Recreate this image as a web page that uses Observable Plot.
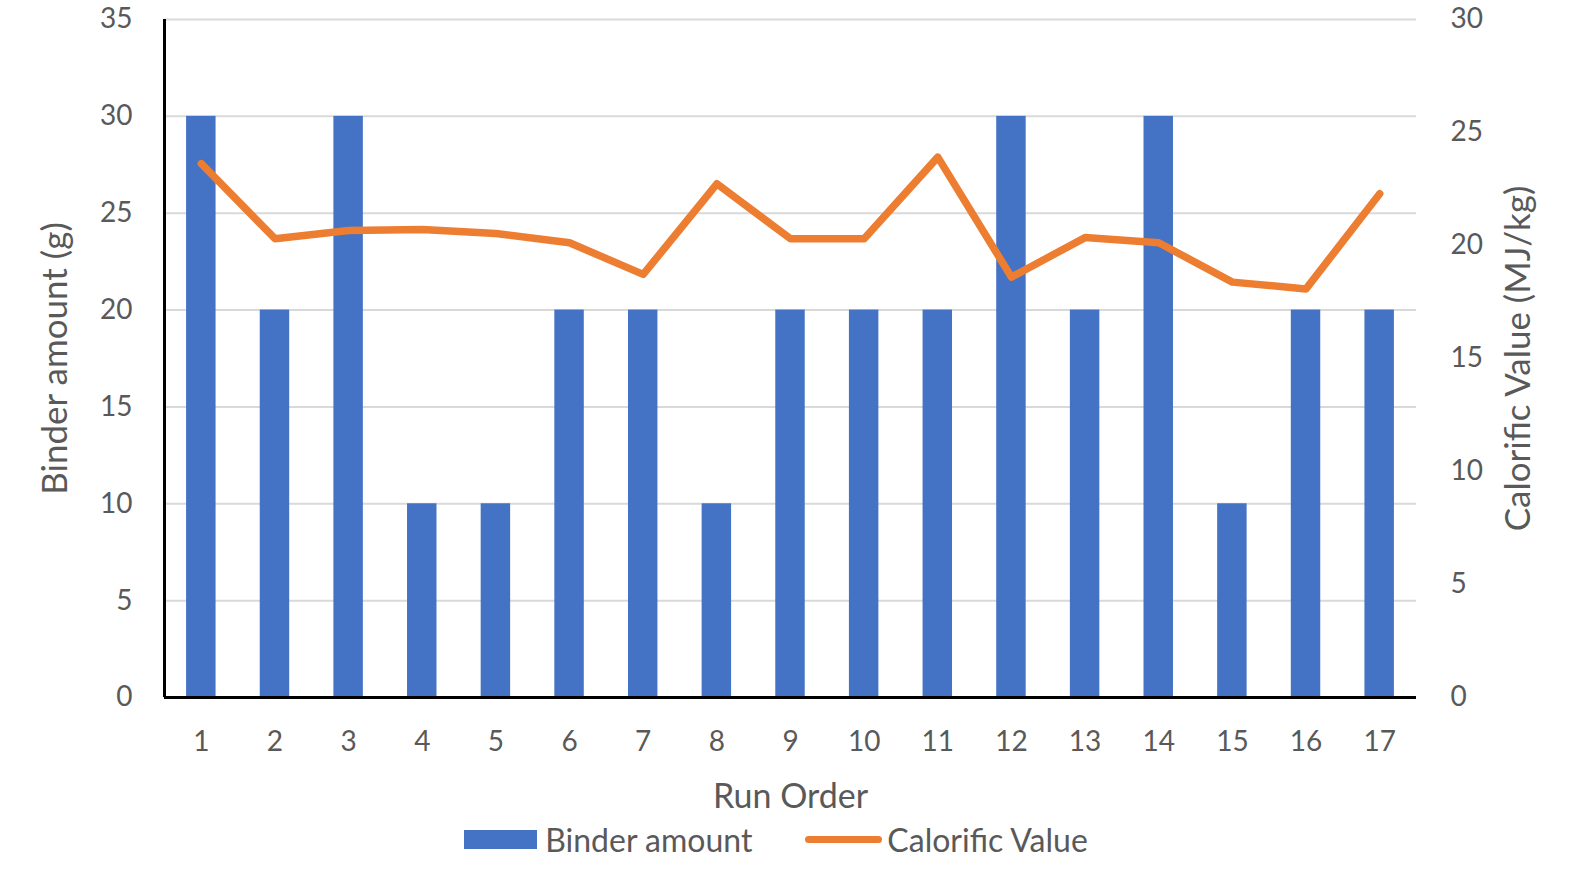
<!DOCTYPE html>
<html>
<head>
<meta charset="utf-8">
<script src="https://cdn.jsdelivr.net/npm/d3@7"></script>
<script src="https://cdn.jsdelivr.net/npm/@observablehq/plot@0.6"></script>
<style>
  html, body { margin: 0; padding: 0; background: #fff; }
  #chart { width: 1570px; }
  .legend { display: flex; justify-content: center; align-items: center; height: 48px; padding-right: 18px;
    font-family: Lato, sans-serif; font-size: 32px; color: #595959; }
  .legend .item { display: flex; align-items: center; }
  .legend .sw-bar { width: 73px; height: 19px; background: #4472C4; margin-right: 8px; }
  .legend .sw-line { width: 77px; height: 7px; border-radius: 4px; background: #ED7D31; margin-right: 5px; }
</style>
</head>
<body>
<div id="chart"></div>
<script>
const runOrder = [1, 2, 3, 4, 5, 6, 7, 8, 9, 10, 11, 12, 13, 14, 15, 16, 17];
const binderAmount = [30, 20, 30, 10, 10, 20, 20, 10, 20, 20, 20, 30, 20, 30, 10, 20, 20];
const calorificValue = [23.62, 20.30, 20.66, 20.71, 20.53, 20.12, 18.72, 22.73, 20.30, 20.30, 23.91, 18.60, 20.35, 20.12, 18.38, 18.08, 22.29];
const leftTicks = [0, 5, 10, 15, 20, 25, 30, 35];
const rightTicks = [0, 5, 10, 15, 20, 25, 30];
const leftMax = 35, rightMax = 30;
const k = leftMax / rightMax;

const data = runOrder.map((r, i) => ({run: r, binder: binderAmount[i], cv: calorificValue[i]}));

const plot = Plot.plot({
  width: 1570,
  height: 815,
  marginLeft: 164,
  marginRight: 154,
  marginTop: 19,
  marginBottom: 118,
  style: {fontFamily: "Lato, sans-serif", fontSize: "28px", color: "#595959", background: "#fff"},
  x: {domain: [0.5, 17.5]},
  y: {domain: [0, leftMax]},
  marks: [
    Plot.ruleY(leftTicks.filter(d => d > 0), {stroke: "#d9d9d9", strokeWidth: 2}),
    Plot.rectY(data, {x1: d => d.run - 0.2, x2: d => d.run + 0.2, y1: 0, y2: "binder", fill: "#4472C4"}),
    Plot.line(data, {x: "run", y: d => d.cv * k, stroke: "#ED7D31", strokeWidth: 7.5, strokeLinejoin: "round", strokeLinecap: "round"}),
    Plot.ruleY([0], {stroke: "#000", strokeWidth: 3}),
    Plot.ruleX([0.5], {stroke: "#000", strokeWidth: 3}),
    Plot.axisX(runOrder, {anchor: "bottom", tickSize: 0, tickPadding: 34, label: null, tickFormat: d => String(d)}),
    Plot.axisY(leftTicks, {anchor: "left", tickSize: 0, tickPadding: 32, label: null}),
    Plot.axisY(rightTicks.map(v => v * k), {anchor: "right", tickSize: 0, tickPadding: 34, label: null,
      tickFormat: d => String(Math.round(d / k))}),
    Plot.text(["Binder amount (g)"], {frameAnchor: "left", textAnchor: "middle", lineAnchor: "middle", rotate: -90, dx: -109, fontSize: 35, fill: "#595959"}),
    Plot.text(["Calorific Value (MJ/kg)"], {frameAnchor: "right", textAnchor: "middle", lineAnchor: "middle", rotate: -90, dx: 102, fontSize: 35, fill: "#595959"}),
    Plot.text(["Run Order"], {frameAnchor: "bottom", textAnchor: "middle", lineAnchor: "middle", dy: 100, fontSize: 34, fill: "#595959"})
  ]
});
document.getElementById("chart").appendChild(plot);

const legend = document.createElement("div");
legend.className = "legend";
legend.innerHTML = `<div class="item"><div class="sw-bar"></div><span>Binder amount</span></div>
<div class="item" style="margin-left:53px"><div class="sw-line"></div><span>Calorific Value</span></div>`;
document.getElementById("chart").appendChild(legend);
</script>
</body>
</html>
